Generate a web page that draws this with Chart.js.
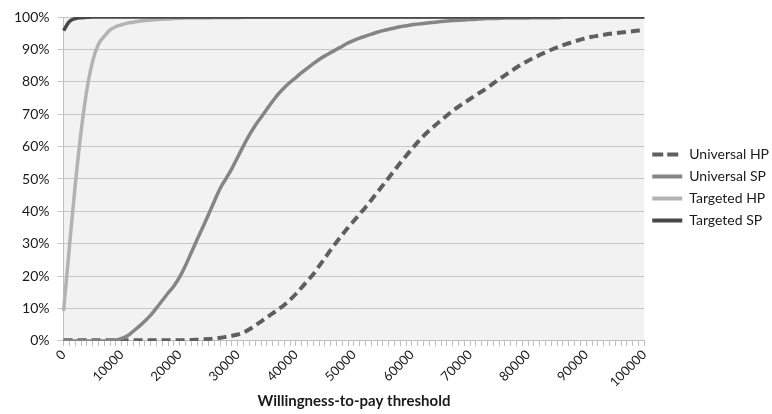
<!DOCTYPE html>
<html>
<head>
<meta charset="utf-8">
<script src="https://cdn.jsdelivr.net/npm/chart.js@4/dist/chart.umd.min.js"></script>
<style>
  html, body { margin: 0; padding: 0; background: #ffffff; }
  #wrap { width: 772px; height: 414px; position: relative; }
</style>
</head>
<body>
<div id="wrap"><canvas id="c" width="772" height="414"></canvas></div>
<script>
// Willingness-to-pay thresholds (categories)
const thresholds = [
  0,1000,2000,3000,4000,5000,6000,7000,8000,9000,
  10000,11000,12000,13000,14000,15000,16000,17000,18000,19000,
  20000,21000,22000,23000,24000,25000,26000,27000,28000,29000,
  30000,31000,32000,33000,34000,35000,36000,37000,38000,39000,
  40000,41000,42000,43000,44000,45000,46000,47000,48000,49000,
  50000,51000,52000,53000,54000,55000,56000,57000,58000,59000,
  60000,61000,62000,63000,64000,65000,66000,67000,68000,69000,
  70000,71000,72000,73000,74000,75000,76000,77000,78000,79000,
  80000,81000,82000,83000,84000,85000,86000,87000,88000,89000,
  90000,91000,92000,93000,94000,95000,96000,97000,98000,99000,
  100000
];

// Probability cost-effective (%)
const universalHP = [
  0.2,0.2,0.2,0.2,0.2,0.2,0.2,0.2,0.2,0.2,
  0.2,0.2,0.2,0.2,0.2,0.2,0.2,0.2,0.2,0.2,
  0.2,0.2,0.3,0.4,0.5,0.6,0.8,1.0,1.3,1.6,
  2.0,2.6,3.6,4.8,6.0,7.3,8.5,9.8,11.1,12.7,
  14.5,16.5,18.6,20.6,23.1,25.6,28.1,30.5,32.8,35.0,
  37.1,39.2,41.3,43.5,45.8,48.1,50.4,52.7,55.0,57.2,
  59.3,61.4,63.3,65.0,66.6,68.1,69.6,71.0,72.3,73.5,
  74.7,75.9,77.0,78.2,79.5,80.8,82.0,83.2,84.4,85.5,
  86.5,87.4,88.3,89.1,89.9,90.6,91.3,91.9,92.5,93.0,
  93.5,93.9,94.2,94.5,94.8,95.0,95.2,95.4,95.6,95.8,
  96.0
];
const universalSP = [
  0.0,0.0,0.0,0.0,0.0,0.0,0.0,0.0,0.1,0.3,
  0.8,1.6,3.0,4.5,6.2,8.0,10.2,12.5,14.8,17.0,
  19.8,23.3,27.3,31.3,35.2,39.2,43.3,47.2,50.2,53.3,
  56.8,60.3,63.6,66.5,69.0,71.5,74.0,76.3,78.2,79.8,
  81.3,82.8,84.2,85.6,86.9,88.0,89.0,90.0,91.0,92.0,
  92.8,93.5,94.1,94.7,95.3,95.8,96.2,96.6,97.0,97.3,
  97.6,97.8,98.0,98.2,98.4,98.6,98.8,98.9,99.0,99.1,
  99.2,99.3,99.4,99.5,99.5,99.6,99.7,99.7,99.7,99.7,
  99.7,99.8,99.8,99.8,99.8,99.8,99.9,99.9,99.9,99.9,
  99.9,99.9,99.9,99.9,99.9,99.9,99.9,99.9,99.9,99.9,
  99.9
];
const targetedHP = [
  9.3,29.0,48.0,64.4,77.4,86.3,91.6,94.0,96.0,97.0,
  97.6,98.1,98.4,98.7,98.9,99.1,99.2,99.3,99.4,99.5,
  99.6,99.7,99.7,99.7,99.7,99.7,99.8,99.8,99.8,99.8,
  99.8,99.9,99.9,99.9,99.9,99.9,99.9,99.9,99.9,99.9,
  99.9,100,100,100,100,100,100,100,100,100,
  100,100,100,100,100,100,100,100,100,100,
  100,100,100,100,100,100,100,100,100,100,
  100,100,100,100,100,100,100,100,100,100,
  100,100,100,100,100,100,100,100,100,100,
  100,100,100,100,100,100,100,100,100,100,
  100
];
const targetedSP = [
  95.8,98.6,99.5,99.8,99.9,100,100,100,100,100,
  100,100,100,100,100,100,100,100,100,100,
  100,100,100,100,100,100,100,100,100,100,
  100,100,100,100,100,100,100,100,100,100,
  100,100,100,100,100,100,100,100,100,100,
  100,100,100,100,100,100,100,100,100,100,
  100,100,100,100,100,100,100,100,100,100,
  100,100,100,100,100,100,100,100,100,100,
  100,100,100,100,100,100,100,100,100,100,
  100,100,100,100,100,100,100,100,100,100,
  100
];
const seriesNames = ['Universal HP', 'Universal SP', 'Targeted HP', 'Targeted SP'];
const yTicks = [0,10,20,30,40,50,60,70,80,90,100];

const plotBg = {
  id: 'plotBg',
  beforeDraw(chart) {
    const {ctx, chartArea: a} = chart;
    ctx.save();
    ctx.fillStyle = '#f2f2f2';
    ctx.fillRect(a.left, a.top, a.right - a.left, a.bottom - a.top);
    ctx.restore();
  }
};

const FONT = "Lato, 'Open Sans', sans-serif";

new Chart(document.getElementById('c'), {
  type: 'line',
  data: {
    labels: thresholds,
    datasets: [
      { label: seriesNames[0], data: universalHP, borderColor: '#5f5f5f', backgroundColor: '#5f5f5f',
        borderWidth: 4, borderDash: [9, 5], order: 3 },
      { label: seriesNames[1], data: universalSP, borderColor: '#858585', backgroundColor: '#858585',
        borderWidth: 3.5, order: 2 },
      { label: seriesNames[2], data: targetedHP, borderColor: '#b3b3b3', backgroundColor: '#b3b3b3',
        borderWidth: 3.5, order: 1 },
      { label: seriesNames[3], data: targetedSP, borderColor: '#474747', backgroundColor: '#474747',
        borderWidth: 3.5, order: 0 }
    ]
  },
  options: {
    responsive: false,
    animation: false,
    devicePixelRatio: 1,
    layout: { padding: { top: 17, left: 6, right: -7, bottom: 4 } },
    elements: {
      point: { radius: 0, hoverRadius: 0 },
      line: { cubicInterpolationMode: 'monotone', borderCapStyle: 'butt' }
    },
    plugins: {
      tooltip: { enabled: false },
      legend: {
        position: 'right',
        align: 'start',
        title: { display: true, text: '', font: { size: 12 }, padding: { top: 108, bottom: 0 } },
        labels: {
          usePointStyle: true,
          pointStyle: 'line',
          pointStyleWidth: 30,
          boxHeight: 14,
          padding: 8,
          color: '#1a1a1a',
          font: { family: FONT, size: 14 },
          sort: (a, b) => a.datasetIndex - b.datasetIndex,
          generateLabels: (chart) => {
            const items = Chart.defaults.plugins.legend.labels.generateLabels(chart);
            items.forEach((it) => {
              const ds = chart.data.datasets[it.datasetIndex];
              it.lineDash = ds.borderDash ? [11, 4] : [];
              it.lineWidth = 4;
              it.strokeStyle = ds.borderColor;
              it.fillStyle = ds.borderColor;
              it.pointStyle = 'line';
              it.lineCap = 'butt';
            });
            return items;
          }
        }
      }
    },
    scales: {
      x: {
        type: 'category',
        offset: false,
        grid: { display: true, drawOnChartArea: false, drawTicks: true, tickLength: 5, color: '#bfbfbf' },
        border: { display: true, color: '#bfbfbf' },
        ticks: {
          autoSkip: false,
          maxRotation: 45,
          minRotation: 45,
          padding: 1,
          color: '#1a1a1a',
          font: { family: FONT, size: 13 },
          callback: function(value, index) {
            const v = thresholds[index];
            return v % 10000 === 0 ? String(v) : '';
          }
        },
        title: {
          display: true,
          text: 'Willingness-to-pay threshold',
          color: '#1a1a1a',
          font: { family: FONT, size: 15, weight: 'bold' },
          padding: { top: 1, bottom: 0 }
        }
      },
      y: {
        min: 0,
        max: 100,
        afterBuildTicks: (axis) => { axis.ticks = yTicks.map(v => ({ value: v })); },
        grid: { color: '#c6c6c6', tickLength: 6 },
        border: { display: true, color: '#bfbfbf' },
        ticks: {
          padding: 8,
          color: '#1a1a1a',
          font: { family: FONT, size: 14 },
          callback: (v) => v + '%'
        }
      }
    }
  },
  plugins: [plotBg]
});
</script>
</body>
</html>
